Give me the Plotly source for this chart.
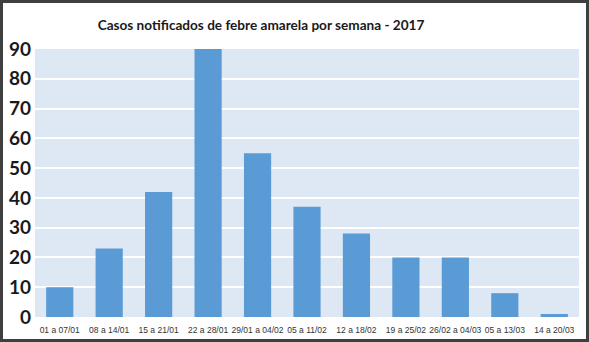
import plotly.graph_objects as go

# Weekly yellow fever notifications, 2017
semanas = ["01 a 07/01", "08 a 14/01", "15 a 21/01", "22 a 28/01", "29/01 a 04/02",
           "05 a 11/02", "12 a 18/02", "19 a 25/02", "26/02 a 04/03", "05 a 13/03",
           "14 a 20/03"]
casos = [10, 23, 42, 90, 55, 37, 28, 20, 20, 8, 1]
y_ticks = [0, 10, 20, 30, 40, 50, 60, 70, 80, 90]

W, H = 589, 342
L, R, T, B = 35, 10, 49, 25

fig = go.Figure(go.Bar(
    x=semanas, y=casos,
    marker=dict(color="#5B9BD5", line=dict(width=0)),
    hoverinfo="x+y",
))

pw = W - L - R
ph = H - T - B

def px_to_paper_x(px):
    return (px - L) / pw

def px_to_paper_y(py):
    return (H - B - py) / ph

fig.update_layout(
    width=W, height=H,
    margin=dict(l=L, r=R, t=T, b=B, autoexpand=False),
    paper_bgcolor="white",
    plot_bgcolor="#DEE8F4",
    bargap=0.45,
    showlegend=False,
    title=dict(
        text="<b>Casos notificados de febre amarela por semana - 2017</b>",
        x=261 / W, xanchor="center", y=1 - 25.5 / H, yanchor="middle",
        font=dict(family="Lato, Open Sans, sans-serif", size=13.6, color="#1a1a1a"),
    ),
    xaxis=dict(
        tickfont=dict(family="Liberation Sans, Arial, sans-serif",
                      size=8.5, color="#333333"),
        tickangle=0, automargin=False, ticklabelstandoff=6,
        showgrid=False, zeroline=False, showline=False, ticks="",
    ),
    yaxis=dict(
        range=[0, 90], tickvals=y_ticks, automargin=False,
        tickfont=dict(family="Lato, Open Sans, sans-serif", size=19,
                      color="#1a1a1a", weight="bold"),
        showgrid=True, gridcolor="white", gridwidth=1.5,
        zeroline=False, showline=False, ticks="", ticklabelstandoff=3,
    ),
    shapes=[dict(
        type="rect", xref="paper", yref="paper",
        x0=px_to_paper_x(1.5), x1=px_to_paper_x(W - 1.5),
        y0=px_to_paper_y(H - 1.5), y1=px_to_paper_y(1.5),
        line=dict(color="#3f3f3f", width=3), fillcolor="rgba(0,0,0,0)",
        layer="above",
    )],
)

fig.write_html("out.html")
